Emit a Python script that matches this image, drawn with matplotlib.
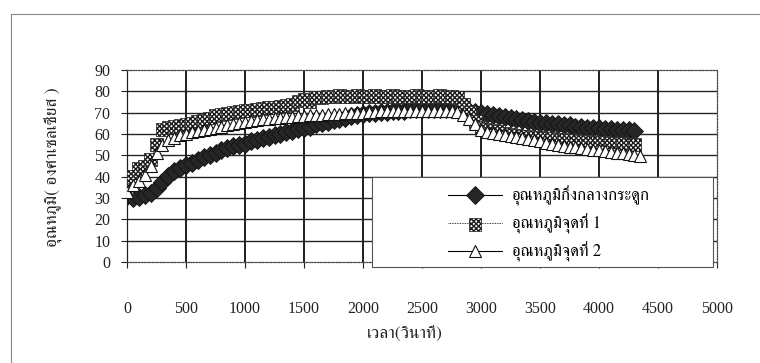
import matplotlib
matplotlib.use('Agg')
import matplotlib.pyplot as plt
from matplotlib import font_manager
from matplotlib.ft2font import FT2Font
from matplotlib.lines import Line2D
from matplotlib.patches import Rectangle
from matplotlib.legend_handler import HandlerTuple


def find_thai_font():
    # first installed family that has Thai glyphs, serif faces preferred
    found = []
    for f in font_manager.fontManager.ttflist:
        try:
            if 0x0E2D in FT2Font(f.fname).get_charmap():
                found.append(f.name)
        except Exception:
            pass
    found.sort(key=lambda n: ('Serif' not in n, n))
    return found[0] if found else 'DejaVu Sans'


THAI = find_thai_font()
SERIF = 'Liberation Serif'
plt.rcParams['hatch.linewidth'] = 1.0

# time in seconds
time_s = [
    0, 50, 100, 150, 200, 250, 300, 350, 400, 450,
    500, 550, 600, 650, 700, 750, 800, 850, 900, 950,
    1000, 1050, 1100, 1150, 1200, 1250, 1300, 1350, 1400, 1450,
    1500, 1550, 1600, 1650, 1700, 1750, 1800, 1850, 1900, 1950,
    2000, 2050, 2100, 2150, 2200, 2250, 2300, 2350, 2400, 2450,
    2500, 2550, 2600, 2650, 2700, 2750, 2800, 2850, 2900, 2950,
    3000, 3050, 3100, 3150, 3200, 3250, 3300, 3350, 3400, 3450,
    3500, 3550, 3600, 3650, 3700, 3750, 3800, 3850, 3900, 3950,
    4000, 4050, 4100, 4150, 4200, 4250, 4300, 4350,
]

# temperature at the bone centre
temp_center = [
    31, 30, 30.5, 31.5, 32.5, 34.5, 37.5, 40.5, 42.5, 44,
    45.5, 46.5, 48, 49, 50, 51, 52.5, 53.5, 54.5, 55,
    55.5, 56.5, 57, 58, 58.5, 59.5, 60, 61, 61.5, 62.5,
    63, 63.5, 64.5, 65, 65.5, 66.5, 67, 67.5, 68.5, 69,
    69.5, 70, 70, 70.5, 70.5, 71, 71, 71, 71.5, 71.5,
    71.5, 71.5, 71.5, 71.5, 71.5, 71.5, 71.5, 71, 71, 70.5,
    70, 69.5, 69, 68.5, 68, 67.5, 67, 66.5, 66, 65.5,
    65, 65, 64.5, 64.5, 64, 64, 63.5, 63.5, 63, 63,
    63, 62.5, 62.5, 62, 62, 62, 61.5,
]

# temperature at point 1
temp_p1 = [
    35, 40, 44, 45, 48, 55, 62, 63, 63.5, 64,
    64.5, 65, 66, 66.5, 67.5, 68.5, 69, 69.5, 70, 70.5,
    71, 71, 71.5, 72, 72.5, 72.5, 73, 73.5, 74, 75.5,
    76, 75, 77, 77, 77.5, 77.5, 78, 77.5, 77.5, 78,
    77.5, 77.5, 78, 77.5, 77.5, 78, 77.5, 77.5, 77.5, 78,
    77.5, 77.5, 77.5, 78, 77.5, 77.5, 77, 74, 70, 66,
    63, 62, 61.5, 61, 60.5, 60, 59.5, 59, 59, 58.5,
    58.5, 58, 58, 57.5, 57.5, 57, 57, 56.5, 56.5, 56,
    56, 56, 55.5, 55.5, 55.5, 55, 55,
]

# temperature at point 2
temp_p2 = [
    33, 36, 38, 41, 45, 51, 55, 57, 58, 59.5,
    60, 61, 61.5, 62, 62.5, 63, 63.5, 64, 64.5, 65,
    65.5, 66, 66.5, 67, 67, 67.5, 67.5, 68, 68, 68.5,
    68.5, 69, 69, 69, 69.5, 69.5, 69.5, 70, 70, 70,
    70, 70.5, 70.5, 71, 71, 71, 71, 71, 71, 71,
    71, 71, 71, 71, 71, 71, 70.5, 69, 67, 64.5,
    62, 61, 60.5, 60, 59.5, 59, 58.5, 58, 57.5, 57,
    56.5, 56, 55.5, 55, 54.5, 54, 54, 53.5, 53, 52.5,
    52.5, 52, 51.5, 51, 51, 50.5, 50, 49.5,
]

labels = ['อุณหภูมิกึ่งกลางกระดูก', 'อุณหภูมิจุดที่ 1', 'อุณหภูมิจุดที่ 2']
x_ticks = [0, 500, 1000, 1500, 2000, 2500, 3000, 3500, 4000, 4500, 5000]
y_ticks = [0, 10, 20, 30, 40, 50, 60, 70, 80, 90]
x_label = 'เวลา(วินาที)'
y_label = 'อุณหภูมิ( องศาเซลเซียส )'

W, H = 760, 363
fig = plt.figure(figsize=(W / 100, H / 100), dpi=100)
fig.patch.set_facecolor('white')

# outer chart border (top and left edges only are in frame)
fig.add_artist(Line2D([11 / W, 11 / W], [0, 1 - 14 / H], transform=fig.transFigure,
                      color='#888888', lw=0.8))
fig.add_artist(Line2D([11 / W, 1], [1 - 14 / H, 1 - 14 / H], transform=fig.transFigure,
                      color='#888888', lw=0.8))

ax = fig.add_axes([127 / W, 1 - 262 / H, 590 / W, 192 / H])
ax.set_xlim(0, 5000)
ax.set_ylim(0, 90)
ax.set_xticks(x_ticks)
ax.set_yticks(y_ticks)
ax.set_xticklabels([str(v) for v in x_ticks], fontfamily=SERIF, fontsize=11.5)
ax.set_yticklabels([str(v) for v in y_ticks], fontfamily=SERIF, fontsize=11.5)
ax.tick_params(axis='x', direction='out', length=4, width=0.8, pad=24, colors='#222222')
ax.tick_params(axis='y', direction='out', length=4, width=0.8, pad=8, colors='#222222')

# inner gridlines; the outer frame carries its own dotted style
ax.vlines(x_ticks[1:-1], 0, 90, colors='#0d0d0d', linewidths=1.3, zorder=2.2)
ax.hlines(y_ticks[1:-1], 0, 5000, colors='#262626', linewidths=1.0, zorder=2.2)

for side in ['top', 'right', 'bottom']:
    ax.spines[side].set_linestyle((0, (1, 1.2)))
    ax.spines[side].set_color('#444444')
    ax.spines[side].set_linewidth(0.9)
ax.spines['left'].set_color('#222222')
ax.spines['left'].set_linewidth(0.9)

# series 1: filled diamonds
n1 = len(temp_center)
ln1, = ax.plot(time_s[:n1], temp_center, color='black', lw=0.8, marker='D', ms=9,
               mfc='#262626', mec='#111111', mew=0.6, zorder=3)

# series 2: cross-hatched squares
n2 = len(temp_p1)
ln2, = ax.plot(time_s[:n2], temp_p1, color='black', lw=0.6, ls=(0, (1, 1)), zorder=4)
sc2 = ax.scatter(time_s[:n2], temp_p1, marker='s', s=85, facecolor='white',
                 edgecolor='#1a1a1a', hatch='xxxxxxx', linewidth=0.5, zorder=4)

# series 3: hollow triangles
n3 = len(temp_p2)
ln3, = ax.plot(time_s[:n3], temp_p2, color='black', lw=0.8, marker='^', ms=8,
               mfc='white', mec='#111111', mew=0.8, zorder=5)

ax.set_xlabel(x_label, family=[THAI, SERIF], fontsize=12.5, color='#222222')
ax.xaxis.set_label_coords(0.471, -0.33)
ax.set_ylabel(y_label, family=[THAI, SERIF], fontsize=12.5, color='#222222')
ax.yaxis.set_label_coords(-0.11, 0.495)

# legend box
fig.add_artist(Rectangle((372 / W, 1 - 267 / H), 341 / W, 90 / H, transform=fig.transFigure,
                         facecolor='white', edgecolor='#555555', lw=0.8, zorder=3))
leg = fig.legend([ln1, (ln2, sc2), ln3], labels,
                 handler_map={tuple: HandlerTuple(ndivide=1)},
                 loc='center', bbox_to_anchor=(549 / W, 1 - 224 / H),
                 frameon=False, scatterpoints=1, handlelength=3.2, handletextpad=0.6,
                 labelspacing=0.45, prop={'family': [THAI, SERIF], 'size': 12})
leg.set_zorder(6)

fig.savefig('out.png', dpi=100, facecolor='white')
